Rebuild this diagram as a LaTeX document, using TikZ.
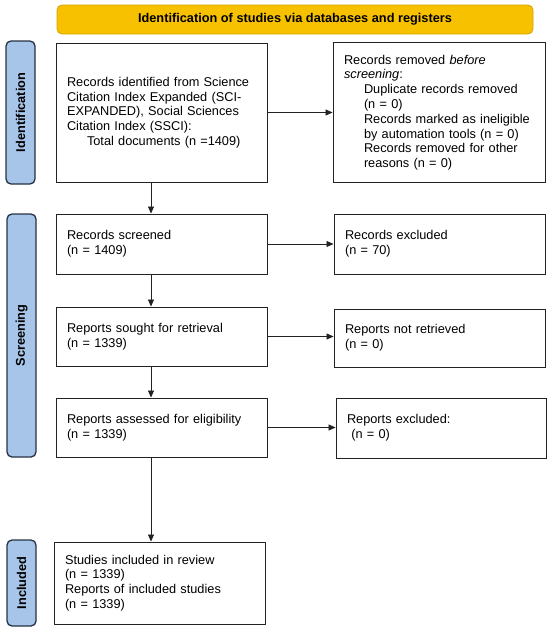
\documentclass[tikz,border=0pt]{standalone}
\usepackage{fontspec}
\setmainfont{Liberation Sans}
\usetikzlibrary{arrows.meta}

\definecolor{bannerfill}{RGB}{247,193,0}
\definecolor{bannerdraw}{RGB}{214,162,0}
\definecolor{phasefill}{RGB}{166,197,232}
\definecolor{phasedraw}{RGB}{38,50,68}
\definecolor{boxdraw}{RGB}{34,34,34}

\newcommand{\subind}{\hspace*{20pt}}

\begin{document}
\begin{tikzpicture}[x=1pt,y=-1pt,font=\fontsize{12.75}{14.8}\selectfont]
		\useasboundingbox (0,0) rectangle (550,629);

		\node[draw=bannerdraw,fill=bannerfill,thick,rounded corners=5pt,
			minimum width=476pt,minimum height=29pt,font=\fontsize{12.75}{14.8}\selectfont\bfseries]
			(top) at (295,19.5) {Identification of studies via databases and registers};

		\begin{scope}[every node/.style={draw=phasedraw,fill=phasefill,line width=1.3pt,
			rounded corners=5pt,rotate=90,minimum height=29pt,inner sep=0pt,
			font=\fontsize{12.75}{14.8}\selectfont\bfseries}]
			\node[minimum width=143pt] (Pid) at (20.5,112.5) {Identification};
			\node[minimum width=243pt] (Pscr) at (21.5,335.5) {Screening};
			\node[minimum width=86pt] (Pinc) at (21.5,583) {Included};
		\end{scope}

		\begin{scope}[every node/.style={draw=boxdraw,line width=0.9pt,align=left,
			text width=189pt,inner xsep=11pt,inner ysep=0pt}]
			\node[minimum height=139pt] (ident) at (161.5,112.5) {Records identified from Science\\Citation Index Expanded (SCI-\\EXPANDED), Social Sciences\\Citation Index (SSCI):\\\subind Total documents (n =1409)};
			\node[minimum height=140pt,text width=190pt] (removed) at (439,112.5) {Records removed \textit{before}\\\textit{screening}:\\\subind Duplicate records removed\\\subind (n = 0)\\\subind Records marked as ineligible\\\subind by automation tools (n = 0)\\\subind Records removed for other\\\subind reasons (n = 0)};
			\node[minimum height=60pt] (screened) at (161.5,244) {Records screened\\(n = 1409)};
			\node[minimum height=60pt] (excluded) at (439.5,244) {Records excluded\\(n = 70)};
			\node[minimum height=59pt] (sought) at (161.5,336.5) {Reports sought for retrieval\\(n = 1339)};
			\node[minimum height=58pt] (notret) at (439.5,338) {Reports not retrieved\\(n = 0)};
			\node[minimum height=59pt] (assessed) at (161.5,427.5) {Reports assessed for eligibility\\(n = 1339)};
			\node[minimum height=60pt,text width=188pt] (exclrep) at (441,428) {Reports excluded:\\\ (n = 0)};
			\node[minimum height=82pt] (included) at (159.5,583) {Studies included in review\\(n = 1339)\\Reports of included studies\\(n = 1339)};
		\end{scope}

		\coordinate (colx) at (151,0);

		\begin{scope}[>={Triangle[length=7pt,width=6pt]},
			every path/.style={draw=boxdraw,line width=0.8pt}]
			\draw[->] (ident.east) -- (removed.west);
			\draw[->] (screened.east) -- (excluded.west);
			\draw[->] (sought.east) -- (sought.east -| notret.west);
			\draw[->] (assessed.east) -- (assessed.east -| exclrep.west);
			\draw[->] (ident.south -| colx) -- (screened.north -| colx);
			\draw[->] (screened.south -| colx) -- (sought.north -| colx);
			\draw[->] (sought.south -| colx) -- (assessed.north -| colx);
			\draw[->] (assessed.south -| colx) -- (included.north -| colx);
		\end{scope}
	\end{tikzpicture}
\end{document}
